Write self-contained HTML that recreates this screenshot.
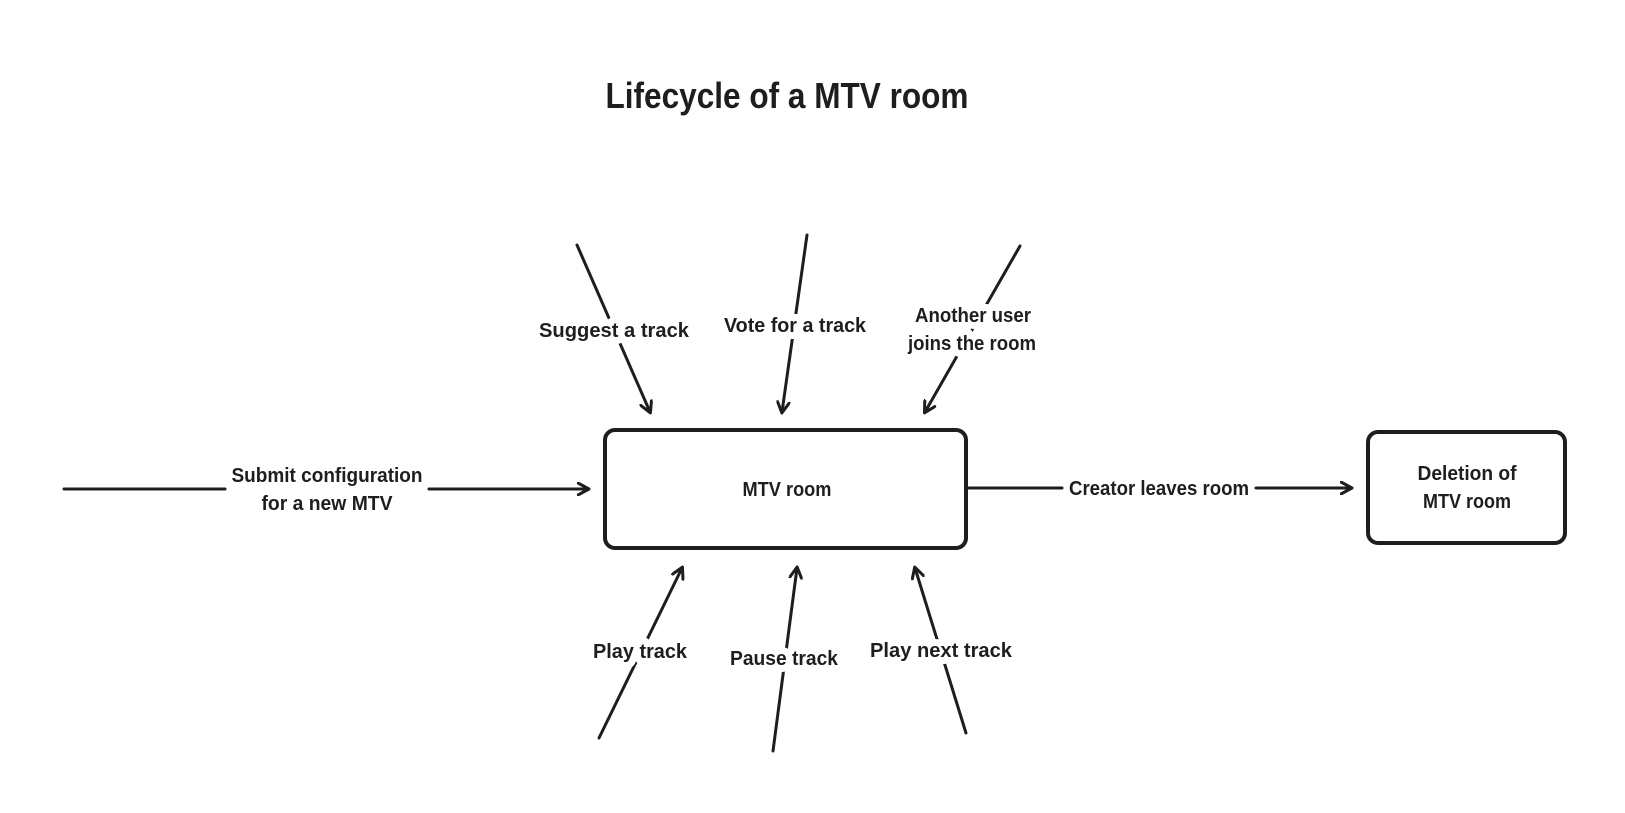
<!DOCTYPE html>
<html><head><meta charset="utf-8"><style>
html,body{margin:0;padding:0;background:#fff;}
svg{display:block}
text{font-family:"Liberation Sans Narrow","Liberation Sans",sans-serif;fill:#1e1e1e;text-anchor:middle;font-weight:bold;}
.l{font-size:20px;paint-order:stroke;stroke:#fff;stroke-width:14px;stroke-linejoin:round;}
.n{font-size:20px;}
</style></head><body>
<svg width="1625" height="813" viewBox="0 0 1625 813">
<defs><marker id="a" markerWidth="14" markerHeight="14" refX="11" refY="7" orient="auto" markerUnits="userSpaceOnUse">
<path d="M1,1 L12,7 L1,13" fill="none" stroke="#1e1e1e" stroke-width="3" stroke-linecap="round" stroke-linejoin="round"/></marker></defs>
<g stroke="#1e1e1e" stroke-width="3" fill="none" stroke-linecap="round">
<rect x="605" y="430" width="361" height="118" rx="10" stroke-width="4"/>
<rect x="1368" y="432" width="197" height="111" rx="10" stroke-width="4"/>
<line x1="64" y1="489" x2="225" y2="489"/>
<line x1="429" y1="489" x2="588" y2="489" marker-end="url(#a)"/>
<line x1="968" y1="488" x2="1062" y2="488"/>
<line x1="1256" y1="488" x2="1351" y2="488" marker-end="url(#a)"/>
<line x1="577" y1="245" x2="650" y2="412" marker-end="url(#a)"/>
<line x1="807" y1="235" x2="782" y2="412" marker-end="url(#a)"/>
<line x1="1020" y1="246" x2="925" y2="412" marker-end="url(#a)"/>
<line x1="599" y1="738" x2="682" y2="568" marker-end="url(#a)"/>
<line x1="773" y1="751" x2="797" y2="568" marker-end="url(#a)"/>
<line x1="966" y1="733" x2="915" y2="568" marker-end="url(#a)"/>
</g>
<text x="787" y="108" style="font-size:36px" textLength="363" lengthAdjust="spacingAndGlyphs">Lifecycle of a MTV room</text>
<text class="n" x="787" y="496" textLength="89" lengthAdjust="spacingAndGlyphs">MTV room</text>
<text class="n" x="1467" y="480" textLength="99" lengthAdjust="spacingAndGlyphs">Deletion of</text>
<text class="n" x="1467" y="508" textLength="88" lengthAdjust="spacingAndGlyphs">MTV room</text>
<text class="n" x="327" y="482" textLength="191" lengthAdjust="spacingAndGlyphs">Submit configuration</text>
<text class="n" x="327" y="510" textLength="131" lengthAdjust="spacingAndGlyphs">for a new MTV</text>
<text class="n" x="1159" y="495" textLength="180" lengthAdjust="spacingAndGlyphs">Creator leaves room</text>
<text class="l" x="614" y="337" textLength="150" lengthAdjust="spacingAndGlyphs">Suggest  a track</text>
<text class="l" x="795" y="332" textLength="142" lengthAdjust="spacingAndGlyphs">Vote for a track</text>
<text class="l" x="973" y="322" textLength="116" lengthAdjust="spacingAndGlyphs">Another user</text>
<text class="l" x="972" y="350" textLength="128" lengthAdjust="spacingAndGlyphs">joins the room</text>
<text class="l" x="640" y="658" textLength="94" lengthAdjust="spacingAndGlyphs">Play track</text>
<text class="l" x="784" y="665" textLength="108" lengthAdjust="spacingAndGlyphs">Pause track</text>
<text class="l" x="941" y="657" textLength="142" lengthAdjust="spacingAndGlyphs">Play next track</text>
</svg>
</body></html>
